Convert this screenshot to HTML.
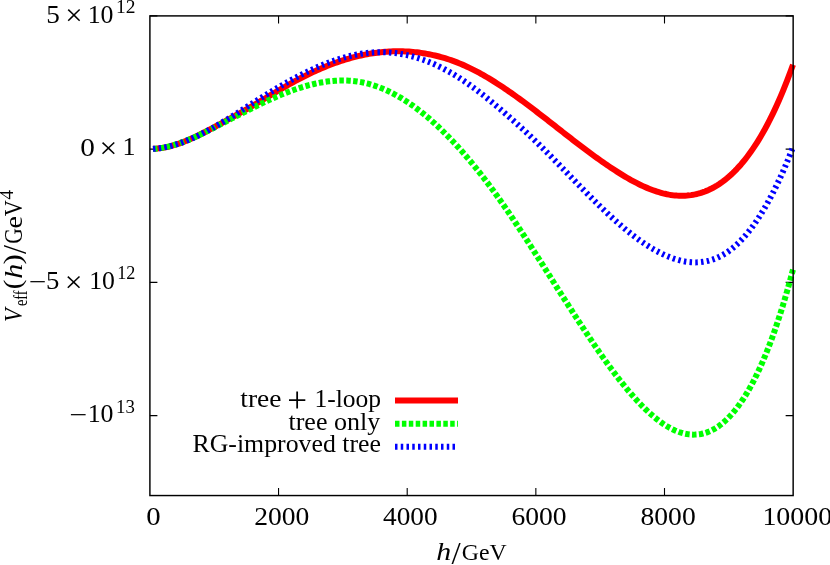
<!DOCTYPE html>
<html><head><meta charset="utf-8"><title>Veff</title>
<style>
html,body{margin:0;padding:0;background:#fff;}
svg{display:block;}
text{font-family:"Liberation Serif",serif;fill:#000;}
.i{font-style:italic;}
</style></head><body>
<svg width="830" height="565" viewBox="0 0 830 565">
<rect x="0" y="0" width="830" height="565" fill="#ffffff"/>
<path d="M278.55,495.55 V488.05 M278.55,15.9 V23.4 M407.20,495.55 V488.05 M407.20,15.9 V23.4 M535.85,495.55 V488.05 M535.85,15.9 V23.4 M664.50,495.55 V488.05 M664.50,15.9 V23.4 M149.9,15.9 H157.4 M793.15,15.9 H785.65 M149.9,149.14 H157.4 M793.15,149.14 H785.65 M149.9,282.37 H157.4 M793.15,282.37 H785.65 M149.9,415.6 H157.4 M793.15,415.6 H785.65" stroke="#000" stroke-width="1.1" fill="none"/>
<path d="M153.00,148.75 L155.00,148.67 L157.00,148.53 L159.00,148.34 L161.00,148.09 L163.00,147.78 L165.00,147.42 L167.00,147.01 L169.00,146.55 L171.00,146.04 L173.00,145.48 L175.00,144.89 L177.00,144.25 L179.00,143.57 L181.00,142.85 L183.00,142.10 L185.00,141.32 L187.00,140.50 L189.00,139.65 L191.00,138.77 L193.00,137.87 L195.00,136.95 L197.00,136.00 L199.00,135.03 L201.00,134.04 L203.00,133.04 L205.00,132.02 L207.00,130.99 L209.00,129.95 L211.00,128.89 L213.00,127.83 L215.00,126.77 L217.00,125.69 L219.00,124.61 L221.00,123.52 L223.00,122.43 L225.00,121.34 L227.00,120.24 L229.00,119.15 L231.00,118.05 L233.00,116.95 L235.00,115.84 L237.00,114.73 L239.00,113.62 L241.00,112.50 L243.00,111.37 L245.00,110.23 L247.00,109.08 L249.00,107.92 L251.00,106.76 L253.00,105.59 L255.00,104.41 L257.00,103.24 L259.00,102.05 L261.00,100.87 L263.00,99.68 L265.00,98.49 L267.00,97.30 L269.00,96.12 L271.00,94.93 L273.00,93.75 L275.00,92.57 L277.00,91.40 L279.00,90.23 L281.00,89.07 L283.00,87.91 L285.00,86.77 L287.00,85.63 L289.00,84.50 L291.00,83.39 L293.00,82.28 L295.00,81.19 L297.00,80.11 L299.00,79.05 L301.00,78.00 L303.00,76.97 L305.00,75.96 L307.00,74.96 L309.00,73.99 L311.00,73.03 L313.00,72.09 L315.00,71.17 L317.00,70.26 L319.00,69.38 L321.00,68.52 L323.00,67.67 L325.00,66.85 L327.00,66.04 L329.00,65.25 L331.00,64.49 L333.00,63.74 L335.00,63.02 L337.00,62.31 L339.00,61.63 L341.00,60.96 L343.00,60.32 L345.00,59.70 L347.00,59.09 L349.00,58.51 L351.00,57.95 L353.00,57.42 L355.00,56.90 L357.00,56.40 L359.00,55.93 L361.00,55.48 L363.00,55.05 L365.00,54.65 L367.00,54.26 L369.00,53.90 L371.00,53.56 L373.00,53.25 L375.00,52.95 L377.00,52.68 L379.00,52.44 L381.00,52.21 L383.00,52.01 L385.00,51.84 L387.00,51.68 L389.00,51.55 L391.00,51.45 L393.00,51.37 L395.00,51.31 L397.00,51.28 L399.00,51.27 L401.00,51.29 L403.00,51.34 L405.00,51.40 L407.00,51.50 L409.00,51.61 L411.00,51.76 L413.00,51.93 L415.00,52.12 L417.00,52.34 L419.00,52.59 L421.00,52.86 L423.00,53.16 L425.00,53.49 L427.00,53.84 L429.00,54.22 L431.00,54.62 L433.00,55.06 L435.00,55.52 L437.00,56.00 L439.00,56.52 L441.00,57.06 L443.00,57.63 L445.00,58.23 L447.00,58.85 L449.00,59.50 L451.00,60.19 L453.00,60.90 L455.00,61.63 L457.00,62.40 L459.00,63.20 L461.00,64.02 L463.00,64.88 L465.00,65.76 L467.00,66.67 L469.00,67.61 L471.00,68.58 L473.00,69.57 L475.00,70.60 L477.00,71.64 L479.00,72.72 L481.00,73.82 L483.00,74.94 L485.00,76.08 L487.00,77.25 L489.00,78.44 L491.00,79.65 L493.00,80.89 L495.00,82.14 L497.00,83.41 L499.00,84.70 L501.00,86.01 L503.00,87.34 L505.00,88.69 L507.00,90.05 L509.00,91.42 L511.00,92.82 L513.00,94.22 L515.00,95.64 L517.00,97.08 L519.00,98.52 L521.00,99.98 L523.00,101.45 L525.00,102.93 L527.00,104.42 L529.00,105.92 L531.00,107.43 L533.00,108.95 L535.00,110.47 L537.00,112.00 L539.00,113.54 L541.00,115.09 L543.00,116.63 L545.00,118.19 L547.00,119.74 L549.00,121.30 L551.00,122.86 L553.00,124.43 L555.00,125.99 L557.00,127.56 L559.00,129.12 L561.00,130.69 L563.00,132.25 L565.00,133.81 L567.00,135.37 L569.00,136.93 L571.00,138.48 L573.00,140.02 L575.00,141.57 L577.00,143.10 L579.00,144.63 L581.00,146.15 L583.00,147.67 L585.00,149.18 L587.00,150.67 L589.00,152.16 L591.00,153.64 L593.00,155.11 L595.00,156.56 L597.00,158.00 L599.00,159.43 L601.00,160.85 L603.00,162.25 L605.00,163.64 L607.00,165.02 L609.00,166.37 L611.00,167.71 L613.00,169.04 L615.00,170.34 L617.00,171.63 L619.00,172.89 L621.00,174.14 L623.00,175.36 L625.00,176.57 L627.00,177.74 L629.00,178.89 L631.00,180.01 L633.00,181.11 L635.00,182.17 L637.00,183.21 L639.00,184.21 L641.00,185.18 L643.00,186.12 L645.00,187.02 L647.00,187.88 L649.00,188.71 L651.00,189.49 L653.00,190.24 L655.00,190.94 L657.00,191.60 L659.00,192.22 L661.00,192.79 L663.00,193.32 L665.00,193.79 L667.00,194.22 L669.00,194.60 L671.00,194.93 L673.00,195.20 L675.00,195.42 L677.00,195.59 L679.00,195.70 L681.00,195.75 L683.00,195.75 L685.00,195.68 L687.00,195.55 L689.00,195.36 L691.00,195.11 L693.00,194.79 L695.00,194.41 L697.00,193.96 L699.00,193.44 L701.00,192.85 L703.00,192.19 L705.00,191.46 L707.00,190.65 L709.00,189.77 L711.00,188.82 L713.00,187.78 L715.00,186.67 L717.00,185.48 L719.00,184.21 L721.00,182.85 L723.00,181.41 L725.00,179.88 L727.00,178.27 L729.00,176.56 L731.00,174.77 L733.00,172.88 L735.00,170.90 L737.00,168.83 L739.00,166.65 L741.00,164.39 L743.00,162.02 L745.00,159.55 L747.00,156.98 L749.00,154.30 L751.00,151.52 L753.00,148.63 L755.00,145.63 L757.00,142.53 L759.00,139.30 L761.00,135.97 L763.00,132.51 L765.00,128.93 L767.00,125.23 L769.00,121.40 L771.00,117.44 L773.00,113.35 L775.00,109.12 L777.00,104.76 L779.00,100.26 L781.00,95.62 L783.00,90.83 L785.00,85.90 L787.00,80.81 L789.00,75.58 L791.00,70.19 L793.00,64.65" fill="none" stroke="#ff0000" stroke-width="6" stroke-linejoin="round"/>
<path d="M153.00,148.88 L155.00,148.74 L157.00,148.55 L159.00,148.30 L161.00,148.00 L163.00,147.66 L165.00,147.27 L167.00,146.84 L169.00,146.36 L171.00,145.85 L173.00,145.29 L175.00,144.69 L177.00,144.06 L179.00,143.40 L181.00,142.70 L183.00,141.96 L185.00,141.20 L187.00,140.41 L189.00,139.60 L191.00,138.75 L193.00,137.89 L195.00,137.00 L197.00,136.09 L199.00,135.16 L201.00,134.21 L203.00,133.25 L205.00,132.27 L207.00,131.28 L209.00,130.28 L211.00,129.27 L213.00,128.25 L215.00,127.23 L217.00,126.20 L219.00,125.16 L221.00,124.13 L223.00,123.09 L225.00,122.05 L227.00,121.01 L229.00,119.97 L231.00,118.93 L233.00,117.90 L235.00,116.86 L237.00,115.83 L239.00,114.80 L241.00,113.77 L243.00,112.75 L245.00,111.73 L247.00,110.72 L249.00,109.71 L251.00,108.71 L253.00,107.71 L255.00,106.73 L257.00,105.75 L259.00,104.78 L261.00,103.81 L263.00,102.86 L265.00,101.92 L267.00,100.99 L269.00,100.07 L271.00,99.17 L273.00,98.27 L275.00,97.39 L277.00,96.53 L279.00,95.68 L281.00,94.85 L283.00,94.03 L285.00,93.23 L287.00,92.45 L289.00,91.68 L291.00,90.94 L293.00,90.21 L295.00,89.51 L297.00,88.83 L299.00,88.17 L301.00,87.53 L303.00,86.91 L305.00,86.32 L307.00,85.75 L309.00,85.21 L311.00,84.69 L313.00,84.21 L315.00,83.74 L317.00,83.31 L319.00,82.90 L321.00,82.52 L323.00,82.18 L325.00,81.86 L327.00,81.58 L329.00,81.32 L331.00,81.10 L333.00,80.91 L335.00,80.76 L337.00,80.64 L339.00,80.56 L341.00,80.51 L343.00,80.50 L345.00,80.52 L347.00,80.58 L349.00,80.69 L351.00,80.83 L353.00,81.01 L355.00,81.23 L357.00,81.49 L359.00,81.80 L361.00,82.14 L363.00,82.53 L365.00,82.97 L367.00,83.44 L369.00,83.97 L371.00,84.53 L373.00,85.13 L375.00,85.78 L377.00,86.47 L379.00,87.20 L381.00,87.98 L383.00,88.79 L385.00,89.65 L387.00,90.55 L389.00,91.48 L391.00,92.46 L393.00,93.48 L395.00,94.54 L397.00,95.64 L399.00,96.78 L401.00,97.95 L403.00,99.17 L405.00,100.42 L407.00,101.72 L409.00,103.05 L411.00,104.42 L413.00,105.82 L415.00,107.27 L417.00,108.75 L419.00,110.27 L421.00,111.82 L423.00,113.42 L425.00,115.05 L427.00,116.71 L429.00,118.41 L431.00,120.15 L433.00,121.92 L435.00,123.72 L437.00,125.57 L439.00,127.44 L441.00,129.35 L443.00,131.30 L445.00,133.28 L447.00,135.29 L449.00,137.33 L451.00,139.41 L453.00,141.53 L455.00,143.67 L457.00,145.85 L459.00,148.06 L461.00,150.30 L463.00,152.57 L465.00,154.87 L467.00,157.21 L469.00,159.58 L471.00,161.97 L473.00,164.40 L475.00,166.86 L477.00,169.35 L479.00,171.87 L481.00,174.41 L483.00,176.99 L485.00,179.60 L487.00,182.23 L489.00,184.90 L491.00,187.59 L493.00,190.31 L495.00,193.06 L497.00,195.83 L499.00,198.63 L501.00,201.46 L503.00,204.32 L505.00,207.20 L507.00,210.11 L509.00,213.05 L511.00,216.00 L513.00,218.98 L515.00,221.98 L517.00,225.00 L519.00,228.04 L521.00,231.09 L523.00,234.16 L525.00,237.24 L527.00,240.34 L529.00,243.45 L531.00,246.57 L533.00,249.70 L535.00,252.84 L537.00,255.98 L539.00,259.13 L541.00,262.28 L543.00,265.44 L545.00,268.60 L547.00,271.76 L549.00,274.92 L551.00,278.08 L553.00,281.24 L555.00,284.39 L557.00,287.54 L559.00,290.69 L561.00,293.83 L563.00,296.97 L565.00,300.10 L567.00,303.22 L569.00,306.34 L571.00,309.45 L573.00,312.55 L575.00,315.64 L577.00,318.72 L579.00,321.79 L581.00,324.84 L583.00,327.89 L585.00,330.92 L587.00,333.94 L589.00,336.94 L591.00,339.93 L593.00,342.89 L595.00,345.84 L597.00,348.77 L599.00,351.67 L601.00,354.55 L603.00,357.40 L605.00,360.22 L607.00,363.02 L609.00,365.79 L611.00,368.52 L613.00,371.22 L615.00,373.89 L617.00,376.52 L619.00,379.11 L621.00,381.66 L623.00,384.18 L625.00,386.65 L627.00,389.08 L629.00,391.46 L631.00,393.80 L633.00,396.09 L635.00,398.33 L637.00,400.52 L639.00,402.65 L641.00,404.74 L643.00,406.77 L645.00,408.74 L647.00,410.65 L649.00,412.51 L651.00,414.30 L653.00,416.03 L655.00,417.70 L657.00,419.30 L659.00,420.83 L661.00,422.29 L663.00,423.68 L665.00,424.99 L667.00,426.23 L669.00,427.40 L671.00,428.48 L673.00,429.48 L675.00,430.40 L677.00,431.23 L679.00,431.98 L681.00,432.64 L683.00,433.21 L685.00,433.68 L687.00,434.07 L689.00,434.35 L691.00,434.54 L693.00,434.63 L695.00,434.62 L697.00,434.51 L699.00,434.29 L701.00,433.96 L703.00,433.53 L705.00,432.98 L707.00,432.33 L709.00,431.56 L711.00,430.67 L713.00,429.67 L715.00,428.55 L717.00,427.30 L719.00,425.93 L721.00,424.44 L723.00,422.82 L725.00,421.08 L727.00,419.20 L729.00,417.19 L731.00,415.05 L733.00,412.77 L735.00,410.35 L737.00,407.80 L739.00,405.10 L741.00,402.26 L743.00,399.28 L745.00,396.14 L747.00,392.86 L749.00,389.43 L751.00,385.84 L753.00,382.10 L755.00,378.20 L757.00,374.13 L759.00,369.89 L761.00,365.49 L763.00,360.91 L765.00,356.16 L767.00,351.23 L769.00,346.12 L771.00,340.82 L773.00,335.34 L775.00,329.67 L777.00,323.81 L779.00,317.75 L781.00,311.49 L783.00,305.03 L785.00,298.36 L787.00,291.49 L789.00,284.41 L791.00,277.12 L793.00,269.61" fill="none" stroke="#00ff00" stroke-width="6" stroke-dasharray="4.5 2.4" stroke-linejoin="round"/>
<path d="M153.00,148.82 L155.00,148.69 L157.00,148.50 L159.00,148.27 L161.00,147.99 L163.00,147.67 L165.00,147.30 L167.00,146.88 L169.00,146.43 L171.00,145.93 L173.00,145.39 L175.00,144.81 L177.00,144.20 L179.00,143.54 L181.00,142.85 L183.00,142.13 L185.00,141.37 L187.00,140.58 L189.00,139.75 L191.00,138.90 L193.00,138.01 L195.00,137.10 L197.00,136.16 L199.00,135.19 L201.00,134.20 L203.00,133.19 L205.00,132.15 L207.00,131.08 L209.00,130.00 L211.00,128.90 L213.00,127.78 L215.00,126.63 L217.00,125.48 L219.00,124.31 L221.00,123.12 L223.00,121.92 L225.00,120.70 L227.00,119.48 L229.00,118.24 L231.00,117.00 L233.00,115.75 L235.00,114.49 L237.00,113.22 L239.00,111.95 L241.00,110.67 L243.00,109.40 L245.00,108.12 L247.00,106.84 L249.00,105.56 L251.00,104.28 L253.00,103.00 L255.00,101.73 L257.00,100.46 L259.00,99.20 L261.00,97.94 L263.00,96.69 L265.00,95.45 L267.00,94.22 L269.00,93.00 L271.00,91.78 L273.00,90.57 L275.00,89.38 L277.00,88.19 L279.00,87.01 L281.00,85.85 L283.00,84.70 L285.00,83.56 L287.00,82.43 L289.00,81.31 L291.00,80.21 L293.00,79.12 L295.00,78.05 L297.00,76.99 L299.00,75.95 L301.00,74.92 L303.00,73.91 L305.00,72.92 L307.00,71.94 L309.00,70.98 L311.00,70.04 L313.00,69.12 L315.00,68.21 L317.00,67.33 L319.00,66.47 L321.00,65.62 L323.00,64.80 L325.00,64.00 L327.00,63.22 L329.00,62.47 L331.00,61.73 L333.00,61.02 L335.00,60.34 L337.00,59.67 L339.00,59.04 L341.00,58.42 L343.00,57.84 L345.00,57.28 L347.00,56.74 L349.00,56.24 L351.00,55.76 L353.00,55.31 L355.00,54.88 L357.00,54.49 L359.00,54.13 L361.00,53.79 L363.00,53.49 L365.00,53.21 L367.00,52.97 L369.00,52.76 L371.00,52.58 L373.00,52.43 L375.00,52.32 L377.00,52.24 L379.00,52.20 L381.00,52.19 L383.00,52.21 L385.00,52.27 L387.00,52.36 L389.00,52.49 L391.00,52.65 L393.00,52.84 L395.00,53.07 L397.00,53.33 L399.00,53.63 L401.00,53.96 L403.00,54.32 L405.00,54.72 L407.00,55.15 L409.00,55.61 L411.00,56.11 L413.00,56.63 L415.00,57.20 L417.00,57.79 L419.00,58.42 L421.00,59.08 L423.00,59.77 L425.00,60.50 L427.00,61.26 L429.00,62.05 L431.00,62.87 L433.00,63.72 L435.00,64.61 L437.00,65.53 L439.00,66.48 L441.00,67.46 L443.00,68.48 L445.00,69.52 L447.00,70.60 L449.00,71.71 L451.00,72.85 L453.00,74.02 L455.00,75.22 L457.00,76.46 L459.00,77.72 L461.00,79.02 L463.00,80.34 L465.00,81.69 L467.00,83.07 L469.00,84.47 L471.00,85.90 L473.00,87.35 L475.00,88.83 L477.00,90.33 L479.00,91.86 L481.00,93.40 L483.00,94.96 L485.00,96.55 L487.00,98.15 L489.00,99.77 L491.00,101.41 L493.00,103.06 L495.00,104.73 L497.00,106.42 L499.00,108.11 L501.00,109.82 L503.00,111.55 L505.00,113.28 L507.00,115.02 L509.00,116.78 L511.00,118.54 L513.00,120.31 L515.00,122.09 L517.00,123.89 L519.00,125.69 L521.00,127.51 L523.00,129.34 L525.00,131.18 L527.00,133.04 L529.00,134.91 L531.00,136.80 L533.00,138.70 L535.00,140.61 L537.00,142.55 L539.00,144.49 L541.00,146.46 L543.00,148.44 L545.00,150.43 L547.00,152.43 L549.00,154.44 L551.00,156.46 L553.00,158.49 L555.00,160.53 L557.00,162.58 L559.00,164.63 L561.00,166.68 L563.00,168.74 L565.00,170.80 L567.00,172.87 L569.00,174.93 L571.00,177.00 L573.00,179.06 L575.00,181.12 L577.00,183.18 L579.00,185.23 L581.00,187.28 L583.00,189.32 L585.00,191.35 L587.00,193.38 L589.00,195.39 L591.00,197.40 L593.00,199.39 L595.00,201.37 L597.00,203.34 L599.00,205.30 L601.00,207.24 L603.00,209.16 L605.00,211.06 L607.00,212.95 L609.00,214.82 L611.00,216.66 L613.00,218.49 L615.00,220.29 L617.00,222.07 L619.00,223.83 L621.00,225.56 L623.00,227.26 L625.00,228.94 L627.00,230.58 L629.00,232.20 L631.00,233.79 L633.00,235.35 L635.00,236.87 L637.00,238.36 L639.00,239.82 L641.00,241.24 L643.00,242.62 L645.00,243.97 L647.00,245.28 L649.00,246.54 L651.00,247.77 L653.00,248.96 L655.00,250.10 L657.00,251.21 L659.00,252.26 L661.00,253.27 L663.00,254.24 L665.00,255.15 L667.00,256.02 L669.00,256.84 L671.00,257.61 L673.00,258.33 L675.00,258.99 L677.00,259.60 L679.00,260.16 L681.00,260.65 L683.00,261.09 L685.00,261.47 L687.00,261.78 L689.00,262.03 L691.00,262.22 L693.00,262.34 L695.00,262.38 L697.00,262.36 L699.00,262.26 L701.00,262.09 L703.00,261.84 L705.00,261.52 L707.00,261.12 L709.00,260.63 L711.00,260.06 L713.00,259.41 L715.00,258.67 L717.00,257.84 L719.00,256.92 L721.00,255.91 L723.00,254.81 L725.00,253.61 L727.00,252.32 L729.00,250.93 L731.00,249.44 L733.00,247.84 L735.00,246.15 L737.00,244.34 L739.00,242.44 L741.00,240.42 L743.00,238.29 L745.00,236.05 L747.00,233.70 L749.00,231.23 L751.00,228.66 L753.00,225.96 L755.00,223.16 L757.00,220.23 L759.00,217.19 L761.00,214.04 L763.00,210.76 L765.00,207.37 L767.00,203.86 L769.00,200.23 L771.00,196.49 L773.00,192.62 L775.00,188.63 L777.00,184.52 L779.00,180.28 L781.00,175.92 L783.00,171.44 L785.00,166.84 L787.00,162.11 L789.00,157.26 L791.00,152.28 L793.00,147.17" fill="none" stroke="#0000ff" stroke-width="6" stroke-dasharray="2.5 3.25" stroke-linejoin="round"/>
<path d="M395,400.6 H458" stroke="#ff0000" stroke-width="6" fill="none"/>
<path d="M395,423.7 H458" stroke="#00ff00" stroke-width="6" stroke-dasharray="4.5 2.4" fill="none"/>
<path d="M395,446.7 H458" stroke="#0000ff" stroke-width="6" stroke-dasharray="2.5 3.25" fill="none"/>
<rect x="149.9" y="15.9" width="643.25" height="479.65000000000003" fill="none" stroke="#000" stroke-width="1.45"/>
<g opacity="0.999">
<text transform="translate(46.37,22.50) scale(1.0900,1.0338)" font-size="25" xml:space="preserve">5</text>
<text transform="translate(65.14,25.33) scale(1.2300,1.1950)" font-size="25" xml:space="preserve">×</text>
<text transform="translate(87.67,22.50) scale(1.0345,1.0182)" font-size="25" xml:space="preserve">10</text>
<text transform="translate(115.93,12.50) scale(1.1133,1.0174)" font-size="17.5" xml:space="preserve">12</text>
<text transform="translate(80.23,155.50) scale(1.1714,1.0242)" font-size="25" xml:space="preserve">0</text>
<text transform="translate(99.58,158.33) scale(1.2600,1.1950)" font-size="25" xml:space="preserve">×</text>
<text transform="translate(122.56,155.20) scale(1.0400,1.0000)" font-size="25" xml:space="preserve">1</text>
<text transform="translate(28.65,289.55) scale(1.2426,1.0000)" font-size="25" xml:space="preserve">−</text>
<text transform="translate(46.10,288.70) scale(1.0700,1.0338)" font-size="25" xml:space="preserve">5</text>
<text transform="translate(64.68,291.53) scale(1.2600,1.1950)" font-size="25" xml:space="preserve">×</text>
<text transform="translate(89.18,288.70) scale(1.0299,1.0182)" font-size="25" xml:space="preserve">10</text>
<text transform="translate(117.14,279.10) scale(1.0400,1.0435)" font-size="17.5" xml:space="preserve">12</text>
<text transform="translate(69.21,422.85) scale(1.2681,1.0000)" font-size="25" xml:space="preserve">−</text>
<text transform="translate(87.67,422.00) scale(1.0345,1.0242)" font-size="25" xml:space="preserve">10</text>
<text transform="translate(115.99,412.60) scale(1.0754,1.0696)" font-size="17.5" xml:space="preserve">13</text>
<text transform="translate(146.15,525.30) scale(1.1524,1.0242)" font-size="25" xml:space="preserve">0</text>
<text transform="translate(254.20,525.30) scale(1.1042,1.0242)" font-size="25" xml:space="preserve">2000</text>
<text transform="translate(383.05,525.30) scale(1.0928,1.0242)" font-size="25" xml:space="preserve">4000</text>
<text transform="translate(511.40,525.30) scale(1.1042,1.0242)" font-size="25" xml:space="preserve">6000</text>
<text transform="translate(640.50,525.30) scale(1.1042,1.0242)" font-size="25" xml:space="preserve">8000</text>
<text transform="translate(762.38,525.30) scale(1.1190,1.0242)" font-size="25" xml:space="preserve">10000</text>
<text transform="translate(436.27,560.00) scale(1.0286,0.8450)" font-size="29" class="i" xml:space="preserve">h</text>
<text transform="translate(451.60,564.04) scale(1.0706,1.0265)" font-size="31" xml:space="preserve">/</text>
<text transform="translate(461.75,560.00) scale(0.9522,0.9515)" font-size="25" xml:space="preserve">GeV</text>
<text transform="translate(240.32,406.50) scale(1.1007,1.0000)" font-size="25" xml:space="preserve">tree</text>
<text transform="translate(287.14,411.59) scale(1.4043,1.4348)" font-size="25" xml:space="preserve">+</text>
<text transform="translate(314.50,406.50) scale(1.0210,1.0000)" font-size="25" xml:space="preserve">1-loop</text>
<text transform="translate(288.44,429.60) scale(1.0416,1.0000)" font-size="25" xml:space="preserve">tree only</text>
<text transform="translate(192.53,452.10) scale(1.0320,1.0000)" font-size="25" xml:space="preserve">RG-improved tree</text>
<g transform="translate(22,320.8) rotate(-90)">
<text transform="translate(-1.11,0.00) scale(0.8862,1.0215)" font-size="25" class="i" xml:space="preserve">V</text>
<text transform="translate(14.68,4.90) scale(0.8274,1.0367)" font-size="17.5" xml:space="preserve">eff</text>
<text transform="translate(31.51,-1.18) scale(1.0345,0.9360)" font-size="28" xml:space="preserve">(</text>
<text transform="translate(42.16,0.00) scale(1.0367,0.9000)" font-size="29" class="i" xml:space="preserve">h</text>
<text transform="translate(56.19,-1.18) scale(1.1143,0.9360)" font-size="28" xml:space="preserve">)</text>
<text transform="translate(66.90,3.93) scale(1.0588,1.0940)" font-size="31" xml:space="preserve">/</text>
<text transform="translate(76.93,0.00) scale(0.8677,1.0061)" font-size="25" xml:space="preserve">G</text>
<text transform="translate(92.18,0.00) scale(1.1243,1.0298)" font-size="25" xml:space="preserve">e</text>
<text transform="translate(104.48,0.00) scale(0.8914,1.0031)" font-size="25" xml:space="preserve">V</text>
<text transform="translate(121.02,-9.00) scale(1.1273,1.0696)" font-size="17.5" xml:space="preserve">4</text>
</g>
</g>
</svg></body></html>
